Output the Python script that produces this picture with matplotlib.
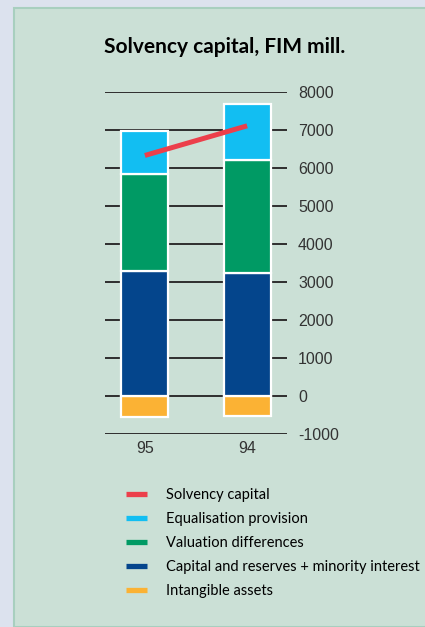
import matplotlib.pyplot as plt
from matplotlib.lines import Line2D
from matplotlib.patches import Rectangle

years = ['95', '94']
intangible = [-540, -520]
capital = [3300, 3230]
valuation = [2550, 2980]
equalisation = [1130, 1470]
solvency = [6330, 7110]
yticks = [-1000, 0, 1000, 2000, 3000, 4000, 5000, 6000, 7000, 8000]

c_red = '#ec3f4b'
c_cyan = '#12bef2'
c_green = '#009a64'
c_navy = '#04458c'
c_orange = '#fbb234'

fig = plt.figure(figsize=(4.25, 6.27), dpi=100)
fig.patch.set_facecolor('#dce2ee')

# green panel behind the chart
panel = Rectangle((14 / 425, 0), 1, 1 - 8 / 627, transform=fig.transFigure,
                  facecolor='#cbe0d6', edgecolor='#a8cfbf', linewidth=1.5, zorder=-1)
fig.patches.append(panel)

fig.text(225 / 425, 1 - 47 / 627, 'Solvency capital, FIM mill.', ha='center', va='center',
         fontsize=15, fontweight='bold', family='Lato')

ax = fig.add_axes([105 / 425, 1 - 434 / 627, 182 / 425, 342 / 627])
ax.set_facecolor('none')
for s in ax.spines.values():
    s.set_visible(False)

x = range(len(years))
for yv in yticks:
    ax.axhline(yv, color='#2e2e2e', lw=1.4, zorder=1)

w = 0.46
kw = dict(width=w, edgecolor='white', linewidth=1.6, zorder=2)
ax.bar(x, intangible, color=c_orange, **kw)
ax.bar(x, capital, color=c_navy, **kw)
ax.bar(x, valuation, bottom=capital, color=c_green, **kw)
base = [a + b for a, b in zip(capital, valuation)]
ax.bar(x, equalisation, bottom=base, color=c_cyan, **kw)
ax.plot(x, solvency, color=c_red, lw=3.6, solid_capstyle='butt', zorder=3)

ax.set_xlim(-0.39, 1.39)
ax.set_ylim(-1000, 8000)
ax.yaxis.tick_right()
ax.set_yticks(yticks)
ax.set_yticklabels([str(v) for v in yticks], family='Liberation Sans', fontsize=11.5, color='#333333')
ax.tick_params(axis='y', length=0, pad=8)
ax.set_xticks(list(x))
ax.set_xticklabels(years, family='Liberation Sans', fontsize=11.5, color='#333333')
ax.tick_params(axis='x', length=0, pad=5)

handles = [Line2D([], [], color=c, lw=3.8, solid_capstyle='butt')
           for c in (c_red, c_cyan, c_green, c_navy, c_orange)]
labels = ['Solvency capital', 'Equalisation provision', 'Valuation differences',
          'Capital and reserves + minority interest', 'Intangible assets']
fig.legend(handles, labels, loc='upper left', bbox_to_anchor=(113 / 425, 1 - 475 / 627),
           frameon=False, handlelength=1.45, handletextpad=1.25, labelspacing=0.68,
           prop={'family': 'Lato', 'size': 10.5})

fig.savefig('out.png', dpi=100, facecolor=fig.get_facecolor())
